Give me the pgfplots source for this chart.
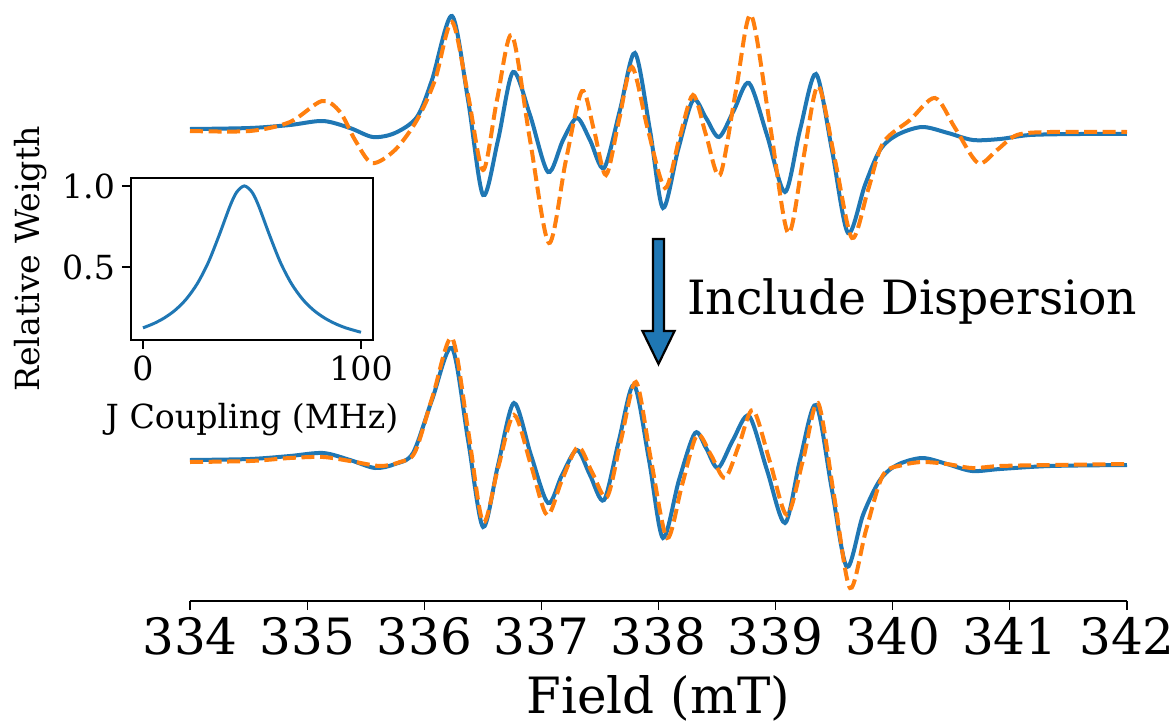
\documentclass[border=0pt]{standalone}
\usepackage{fontspec}
\setmainfont{DejaVu Serif}
\usepackage{pgfplots}
\pgfplotsset{compat=1.18}
\definecolor{mblue}{HTML}{1F77B4}
\definecolor{morange}{HTML}{FF7F0E}
\begin{document}
\begin{tikzpicture}
\useasboundingbox (-95pt,-62pt) rectangle (492pt,300.5pt);
\begin{axis}[
  at={(0pt,0pt)}, anchor=south west,
  scale only axis, width=468.5pt, height=300.5pt,
  xmin=334, xmax=342, ymin=0, ymax=601,
  clip=false,
  axis x line*=bottom, axis y line=none,
  xtick={334,335,336,337,338,339,340,341,342},
  tick align=outside,
  major tick length=4.5pt,
  tick style={black, line width=0.6pt},
  axis line style={line width=0.6pt},
  /pgf/number format/assume math mode=true,
  /pgf/number format/1000 sep={},
  xticklabel style={font=\fontsize{25}{30}\selectfont},
  xlabel={Field (mT)},
  xlabel style={font=\fontsize{25}{30}\selectfont, at={(axis description cs:0.5,0)}, anchor=center, yshift=-48.5pt},
]
% top, absorption only
\addplot[mblue, line width=2pt, smooth, tension=0.5] coordinates {
(334.000,472) (334.512,473) (334.854,476) (335.136,480) (335.366,473) (335.562,464) (335.750,468) (335.938,484)
(336.066,521) (336.237,585) (336.374,501) (336.502,406) (336.630,461) (336.758,529) (336.903,486) (337.057,429)
(337.185,461) (337.304,483) (337.415,461) (337.535,433) (337.671,491) (337.799,548) (337.927,471) (338.038,393)
(338.167,451) (338.295,501) (338.406,483) (338.517,464) (338.645,491) (338.773,518) (338.926,466) (339.080,409)
(339.208,471) (339.345,527) (339.481,451) (339.618,368) (339.763,416) (339.891,451) (340.036,466) (340.250,474)
(340.472,468) (340.685,461) (340.916,462) (341.172,466) (341.599,467) (342.000,467)
};
\addplot[morange, line width=2pt, smooth, tension=0.5, dash pattern=on 6.5pt off 2.8pt] coordinates {
(334.000,470) (334.512,470) (334.854,479) (335.127,500) (335.281,489) (335.409,461) (335.554,438) (335.750,451)
(335.938,481) (336.092,521) (336.237,579) (336.374,506) (336.502,431) (336.621,501) (336.749,566) (336.903,461)
(337.065,358) (337.210,441) (337.347,510) (337.449,471) (337.552,426) (337.663,481) (337.774,534) (337.910,471)
(338.056,413) (338.175,461) (338.295,506) (338.406,466) (338.525,426) (338.662,511) (338.790,586) (338.952,476)
(339.106,368) (339.234,441) (339.362,515) (339.507,441) (339.652,363) (339.789,411) (339.917,458) (340.147,481)
(340.361,503) (340.532,473) (340.728,438) (340.890,451) (341.061,466) (341.343,469) (342.000,469)
};
% bottom, with dispersion
\addplot[mblue, line width=2pt, smooth, tension=0.5] coordinates {
(334.000,141) (334.512,142) (334.854,145) (335.136,148) (335.366,141) (335.580,133) (335.750,137) (335.904,148)
(336.066,201) (336.237,253) (336.374,161) (336.502,74) (336.630,136) (336.766,198) (336.911,146) (337.057,98)
(337.176,126) (337.304,151) (337.415,126) (337.535,101) (337.663,161) (337.791,216) (337.919,141) (338.038,63)
(338.175,121) (338.312,168) (338.406,153) (338.508,133) (338.636,161) (338.773,185) (338.926,131) (339.080,78)
(339.208,141) (339.345,196) (339.481,111) (339.609,34) (339.746,86) (339.891,121) (340.036,136) (340.250,143)
(340.463,137) (340.677,130) (340.916,132) (341.343,135) (342.000,136)
};
\addplot[morange, line width=2pt, smooth, tension=0.5, dash pattern=on 6.5pt off 2.8pt] coordinates {
(334.000,139) (334.512,140) (334.854,143) (335.136,144) (335.366,140) (335.622,135) (335.793,139) (335.921,149)
(336.075,206) (336.237,263) (336.374,171) (336.502,79) (336.630,133) (336.766,186) (336.911,136) (337.048,86)
(337.176,121) (337.313,154) (337.432,129) (337.560,104) (337.680,161) (337.808,219) (337.936,141) (338.073,63)
(338.201,116) (338.329,166) (338.448,146) (338.568,123) (338.687,156) (338.807,191) (338.952,139) (339.097,86)
(339.234,141) (339.362,198) (339.498,106) (339.635,13) (339.772,71) (339.917,126) (340.088,136) (340.258,139)
(340.463,137) (340.677,133) (340.916,135) (341.343,136) (342.000,137)
};
\draw[fill=mblue, draw=black, line width=1.1pt, line join=miter]
  (axis cs:337.953,362) -- (axis cs:338.047,362) -- (axis cs:338.047,270) -- (axis cs:338.137,270)
  -- (axis cs:338.000,237) -- (axis cs:337.863,270) -- (axis cs:337.953,270) -- cycle;
\node[anchor=base west, inner sep=0pt, font=\fontsize{23.6}{28}\selectfont] at (axis cs:338.241,287) {Include Dispersion};
\end{axis}
\begin{axis}[
  at={(-29.5pt,130.5pt)}, anchor=south west,
  scale only axis, width=121pt, height=81pt,
  xmin=-5.5, xmax=105.5, ymin=0.049, ymax=1.049,
  xtick={0,100}, ytick={0.5,1}, yticklabels={0.5,1.0},
  xtick pos=bottom, ytick pos=left,
  tick align=outside, major tick length=4.5pt,
  tick style={black, line width=0.6pt},
  axis line style={line width=0.6pt},
  axis background/.style={fill=white},
  /pgf/number format/assume math mode=true,
  tick label style={font=\fontsize{16.6}{20}\selectfont},
  xlabel={J Coupling (MHz)},
  ylabel={Relative Weigth},
  xlabel style={font=\fontsize{16.6}{20}\selectfont, at={(axis description cs:0.5,-0.49)}, anchor=center},
  ylabel style={font=\fontsize{16.6}{20}\selectfont, at={(axis description cs:-0.413,0.5)}, anchor=center},
]
\addplot[mblue, line width=1.5pt, smooth] coordinates {
(0,0.124) (5,0.151) (10,0.187) (15,0.236) (20,0.304) (25,0.399) (30,0.529) (35,0.698) (40,0.879) (43,0.962)
(46.5,1.0) (50,0.962) (53,0.879) (58,0.698) (63,0.529) (68,0.399) (73,0.304) (78,0.236) (83,0.187) (88,0.151)
(93,0.124) (100,0.0966)
};
\end{axis}
\end{tikzpicture}
\end{document}
